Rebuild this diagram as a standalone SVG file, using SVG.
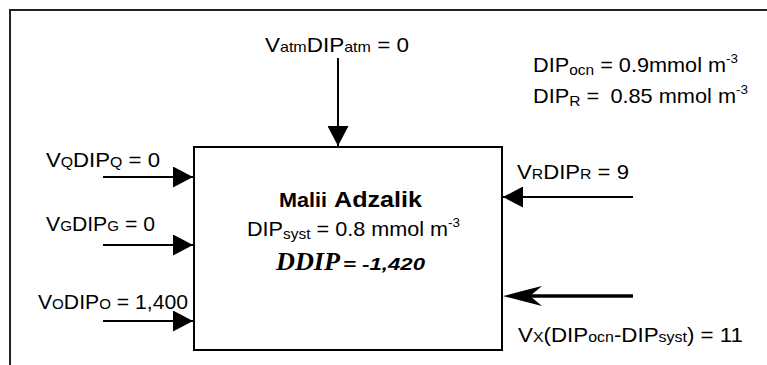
<svg xmlns="http://www.w3.org/2000/svg" width="767" height="365" viewBox="0 0 767 365">
<style>
text{font-family:"Liberation Sans",Arial,sans-serif;font-size:21px;fill:#000}
.s{font-size:15px}
.sup{font-size:13px}
.ln{stroke:#000;stroke-width:2;fill:none}
.b{font-weight:bold}
</style>
<defs>
<marker id="tri" viewBox="0 0 20 21" refX="20" refY="10.5" markerWidth="20" markerHeight="21" markerUnits="userSpaceOnUse" orient="auto">
<path d="M0,0 L20,10.5 L0,21 Z" fill="#000"/>
</marker>
</defs>
<rect width="767" height="365" fill="#fff"/>
<path d="M10,365 V10 H767" fill="none" stroke="#222" stroke-width="2"/>

<g id="box">
<rect x="194" y="147" width="308" height="203" fill="#fff" stroke="#000" stroke-width="2"/>
<text x="279" y="207" class="b" style="font-size:20px" textLength="48" lengthAdjust="spacingAndGlyphs">Malii</text>
<text x="334" y="207" class="b" style="font-size:22px" textLength="88" lengthAdjust="spacingAndGlyphs">Adzalik</text>
<text x="247" y="236" textLength="213" lengthAdjust="spacingAndGlyphs">DIP<tspan class="s" dy="3">syst</tspan><tspan dy="-3"> = 0.8 mmol m</tspan><tspan class="sup" dy="-9">-3</tspan></text>
<text x="276" y="270" font-weight="bold" font-style="italic" style="font-family:'Liberation Serif',serif;font-size:26px" textLength="64" lengthAdjust="spacingAndGlyphs">DDIP</text>
<text x="343" y="270" font-weight="bold" font-style="italic" style="font-size:17px" textLength="82" lengthAdjust="spacingAndGlyphs">= -1,420</text>
</g>

<g id="atm">
<text x="265" y="52" textLength="144" lengthAdjust="spacingAndGlyphs">V<tspan class="s">atm</tspan>DIP<tspan class="s">atm</tspan> = 0</text>
</g>
<g id="params">
<text x="533" y="72" textLength="205" lengthAdjust="spacingAndGlyphs">DIP<tspan class="s" dy="3">ocn</tspan><tspan dy="-3"> = 0.9mmol m</tspan><tspan class="sup" dy="-9">-3</tspan></text>
<text x="533" y="103" textLength="215" lengthAdjust="spacingAndGlyphs">DIP<tspan class="s" dy="3">R</tspan><tspan dy="-3"> = </tspan><tspan dx="5">0.85 mmol m</tspan><tspan class="sup" dy="-9">-3</tspan></text>
</g>
<g id="inQ"><text x="46" y="167" textLength="114" lengthAdjust="spacingAndGlyphs">V<tspan class="s">Q</tspan>DIP<tspan class="s">Q</tspan> = 0</text></g>
<g id="inG"><text x="46" y="231" textLength="109" lengthAdjust="spacingAndGlyphs">V<tspan class="s">G</tspan>DIP<tspan class="s">G</tspan> = 0</text></g>
<g id="inO"><text x="38" y="309" textLength="150" lengthAdjust="spacingAndGlyphs">V<tspan class="s">O</tspan>DIP<tspan class="s">O</tspan> = 1,400</text></g>
<g id="inR"><text x="517" y="179" textLength="112" lengthAdjust="spacingAndGlyphs">V<tspan class="s">R</tspan>DIP<tspan class="s">R</tspan> = 9</text></g>
<g id="inX"><text x="518" y="342" textLength="225" lengthAdjust="spacingAndGlyphs">V<tspan class="s">X</tspan>(DIP<tspan class="s">ocn</tspan>-DIP<tspan class="s">syst</tspan>) = 11</text></g>

<g id="connectors">
<line class="ln" x1="338" y1="58" x2="338" y2="146" marker-end="url(#tri)"/>
<line class="ln" x1="103" y1="177" x2="193" y2="177" marker-end="url(#tri)"/>
<line class="ln" x1="103" y1="245" x2="193" y2="245" marker-end="url(#tri)"/>
<line class="ln" x1="103" y1="321" x2="193" y2="321" marker-end="url(#tri)"/>
<line class="ln" x1="633" y1="197" x2="503" y2="197" marker-end="url(#tri)"/>
<line x1="633" y1="296" x2="525" y2="296" stroke="#000" stroke-width="3.5"/>
<path d="M503,296 Q522,291 542,286 L530,296 L542,306 Q522,301 503,296 Z" fill="#000"/>
</g>
</svg>
